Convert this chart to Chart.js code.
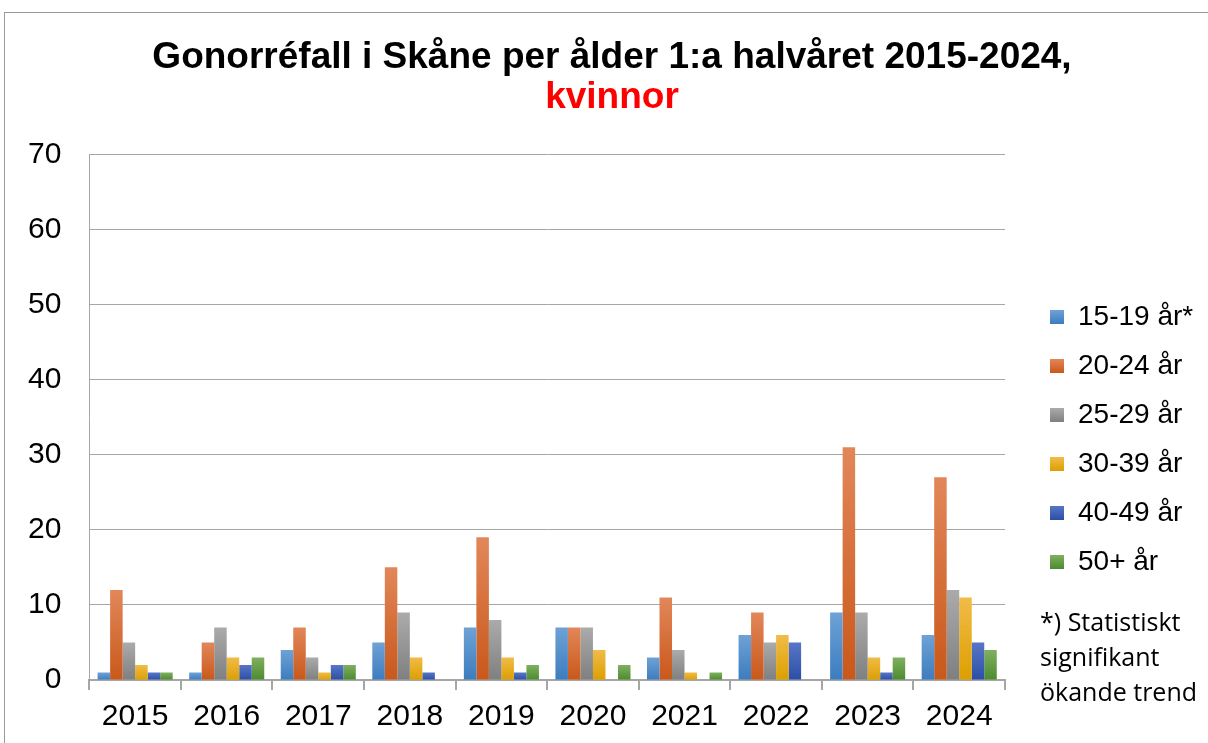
<!DOCTYPE html>
<html>
<head>
<meta charset="utf-8">
<script src="https://cdn.jsdelivr.net/npm/chart.js@4.4.1/dist/chart.umd.min.js"></script>
<style>
  html, body { margin: 0; padding: 0; background: #fff; }
  #wrap { position: relative; width: 1208px; height: 743px; overflow: hidden; }
  #frame { position: absolute; left: 4px; top: 12px; width: 1300px; height: 800px;
           border-top: 1px solid #9a9a9a; border-left: 1px solid #9a9a9a; }
  #chart { position: absolute; left: 0; top: 0; }
  #note { position: absolute; left: 1040px; top: 604px; font-family: "Open Sans", sans-serif;
          font-size: 25px; line-height: 35px; color: #000; white-space: nowrap; }
</style>
</head>
<body>
<div id="wrap">
  <div id="frame"></div>
  <canvas id="chart" width="1208" height="743"></canvas>
  <div id="note">*) Statistiskt<br>signifikant<br>ökande trend</div>
</div>
<script>
// ── data ──
var years = ['2015', '2016', '2017', '2018', '2019', '2020', '2021', '2022', '2023', '2024'];
var ageGroups = ['15-19 år*', '20-24 år', '25-29 år', '30-39 år', '40-49 år', '50+ år'];
var age15_19 = [1, 1, 4, 5, 7, 7, 3, 6, 9, 6];
var age20_24 = [12, 5, 7, 15, 19, 7, 11, 9, 31, 27];
var age25_29 = [5, 7, 3, 9, 8, 7, 4, 5, 9, 12];
var age30_39 = [2, 3, 1, 3, 3, 4, 1, 6, 3, 11];
var age40_49 = [1, 2, 2, 1, 1, 0, 0, 5, 1, 5];
var age50plus = [1, 3, 2, 0, 2, 2, 1, 0, 3, 4];
var yTicks = [0, 10, 20, 30, 40, 50, 60, 70];

// gradient pairs (top, bottom) per series
var seriesColors = [
  ['#6fa2d6', '#3c7cbe'],
  ['#e2875a', '#c9581a'],
  ['#ababab', '#7f7f7f'],
  ['#f1bc48', '#dc9f00'],
  ['#5876c6', '#2b4fa6'],
  ['#80b060', '#4c8a2e'],
];

function barGradient(idx) {
  return function (ctx) {
    var chart = ctx.chart;
    if (!chart.chartArea || ctx.type !== 'data') return seriesColors[idx][1];
    var y = chart.scales.y;
    var top = y.getPixelForValue(ctx.raw || 0);
    var bottom = y.getPixelForValue(0);
    if (bottom - top < 1) top = bottom - 1;
    var g = chart.ctx.createLinearGradient(0, top, 0, bottom);
    g.addColorStop(0, seriesColors[idx][0]);
    g.addColorStop(1, seriesColors[idx][1]);
    return g;
  };
}

function legendSwatch(idx) {
  var c = document.createElement('canvas');
  c.width = 14; c.height = 14;
  var x = c.getContext('2d');
  var g = x.createLinearGradient(0, 0, 0, 14);
  g.addColorStop(0, seriesColors[idx][0]);
  g.addColorStop(1, seriesColors[idx][1]);
  x.fillStyle = g;
  x.fillRect(0, 0, 14, 14);
  return c;
}

var seriesData = [age15_19, age20_24, age25_29, age30_39, age40_49, age50plus];
var datasets = seriesData.map(function (d, i) {
  return {
    label: ageGroups[i], data: d,
    backgroundColor: barGradient(i), borderWidth: 0,
    barPercentage: 1.0, categoryPercentage: 0.82,
  };
});

// fixed legend width so the plot ends where the reference does,
// then nudge legend and titles to where the reference has them
var layoutTweaks = {
  id: 'layoutTweaks',
  beforeInit: function (chart) {
    var origFit = chart.legend.fit;
    chart.legend.fit = function () {
      origFit.bind(chart.legend)();
      this.width = 193;
    };
  },
  afterLayout: function (chart) {
    var lg = chart.legend;
    lg.left += 24; lg.right += 24;
    var dy = 282 - lg.top;
    lg.top += dy; lg.bottom += dy;
    chart.boxes.forEach(function (b) {
      if (b.position === 'top') { b.left += 13; b.right += 13; }
    });
  },
};

Chart.defaults.font.family = '"Liberation Sans", Arial, sans-serif';
Chart.defaults.color = '#000';

new Chart(document.getElementById('chart'), {
  type: 'bar',
  data: { labels: years, datasets: datasets },
  plugins: [layoutTweaks],
  options: {
    responsive: false, animation: false,
    layout: { padding: { left: 0, right: 10, top: 0, bottom: -1 } },
    plugins: {
      title: {
        display: true, text: 'Gonorréfall i Skåne per ålder 1:a halvåret 2015-2024,',
        font: { size: 37, weight: 'bold', lineHeight: 1.1 }, color: '#000',
        padding: { top: 37, bottom: 0 },
      },
      subtitle: {
        display: true, text: 'kvinnor',
        font: { size: 37, weight: 'bold', lineHeight: 1.1 }, color: '#ff0000',
        padding: { top: 0, bottom: 36 },
      },
      legend: {
        position: 'right', align: 'start',
        labels: {
          font: { size: 28 }, color: '#000', padding: 21, boxWidth: 14, boxHeight: 14,
          usePointStyle: true,
          generateLabels: function (chart) {
            return ageGroups.map(function (name, i) {
              return {
                text: name, datasetIndex: i, pointStyle: legendSwatch(i),
                fillStyle: seriesColors[i][1], strokeStyle: 'transparent', lineWidth: 0,
              };
            });
          },
        },
      },
      tooltip: { enabled: false },
    },
    scales: {
      x: {
        grid: { display: true, drawOnChartArea: false, drawTicks: true, tickLength: 10,
                offset: true, color: '#a6a6a6', lineWidth: 2 },
        border: { color: '#a6a6a6', width: 2 },
        ticks: { font: { size: 30 }, color: '#000', padding: 9 },
      },
      y: {
        min: 0, max: 70,
        afterBuildTicks: function (axis) {
          axis.ticks = yTicks.map(function (v) { return { value: v }; });
        },
        grid: { color: '#a6a6a6', lineWidth: 1, drawTicks: false },
        border: { color: '#a6a6a6', width: 1 },
        ticks: { font: { size: 30 }, color: '#000', padding: 28 },
      },
    },
  },
});
</script>
</body>
</html>
